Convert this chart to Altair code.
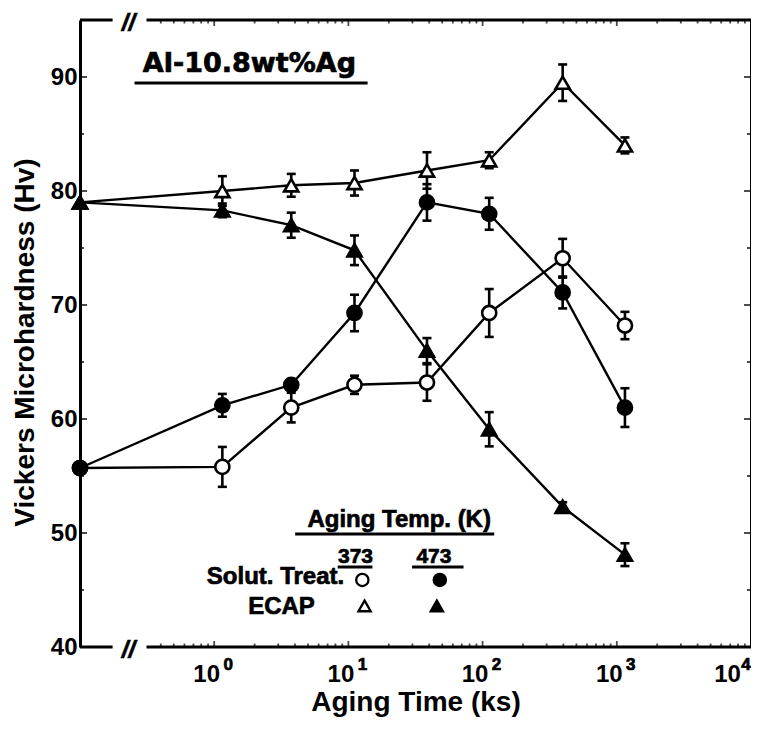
import altair as alt
import pandas as pd

FONT = "Liberation Sans"

# ---------------- data ----------------
time_ks = [0, 1.15, 3.75, 11.1, 38.5, 112, 395, 1150]   # aging time, ks (0 = as-treated)
T0_POS = 0.1                                            # where t = 0 is drawn (left of axis break)

series_names = ["Solut. Treat. 373 K", "Solut. Treat. 473 K", "ECAP 373 K", "ECAP 473 K"]
hv_st373 = [55.7, 55.8, 61.0, 63.0, 63.2, 69.3, 74.1, 68.2]
err_st373 = [0.3, 1.75, 1.3, 0.8, 1.6, 2.1, 1.7, 1.2]
hv_st473 = [55.7, 61.2, 63.0, 69.3, 79.0, 78.0, 71.1, 61.0]
err_st473 = [0.3, 1.0, 0.5, 1.6, 1.6, 1.4, 1.4, 1.7]
hv_ec373 = [79.0, 80.0, 80.5, 80.7, 81.8, 82.7, 89.5, 84.0]
err_ec373 = [0.3, 1.3, 1.0, 1.1, 1.6, 0.7, 1.6, 0.7]
hv_ec473 = [79.0, 78.3, 77.0, 74.8, 66.0, 59.1, 52.3, 48.1]
err_ec473 = [0.3, 0.6, 1.1, 1.3, 1.1, 1.5, 0.4, 1.0]

x_major = [1, 10, 100, 1000, 10000]
x_exponents = ["0", "1", "2", "3", "4"]
x_minor_mults = [2, 3, 4, 5, 6, 7, 8, 9]
x_minor_decades = [0.1, 1, 10, 100, 1000]
y_labels = [40, 50, 60, 70, 80, 90]
y_major_ticks = [50, 60, 70, 80, 90]
y_minor_ticks = [45, 55, 65, 75, 85]

# axis break position and the two pieces of the broken horizontal axes
break_x = [0.23]
axis_seg_start = [0.1, 0.313]
axis_seg_end = [0.175, 10000]

# ---------------- tables ----------------
rows = []
for name, hv, er in zip(series_names, [hv_st373, hv_st473, hv_ec373, hv_ec473],
                        [err_st373, err_st473, err_ec373, err_ec473]):
    for t, v, e in zip(time_ks, hv, er):
        rows.append(dict(series=name, t=(t if t > 0 else T0_POS), raw_t=t,
                         hv=v, lo=v - e, hi=v + e))
df = pd.DataFrame(rows)
df_err = df[df.raw_t > 0]

minor_x = [m * d for d in x_minor_decades for m in x_minor_mults if m * d >= 0.4]
df_xmaj = pd.DataFrame({"x": x_major})
df_xmin = pd.DataFrame({"x": minor_x})
df_ymaj = pd.DataFrame({"y": y_major_ticks})
df_ymin = pd.DataFrame({"y": y_minor_ticks})
df_exp = pd.DataFrame({"x": x_major[:-1], "e": x_exponents[:-1]})
df_exp_last = pd.DataFrame({"x": x_major[-1:], "e": x_exponents[-1:]})
df_seg = pd.DataFrame({"x": axis_seg_start, "x2": axis_seg_end})
df_brk = pd.DataFrame({"x": break_x * 2, "y": [40, 95], "s": ["//", "//"]})

# annotation: sample title and hand-drawn legend
df_title = pd.DataFrame({"x": [1.83], "y": [90.44], "s": ["Al-10.8wt%Ag"]})
df_head = pd.DataFrame({"x": [23.9], "y": [50.53], "s": ["Aging Temp. (K)"]})
df_temps = pd.DataFrame({"x": [11.3, 43.4], "y": [47.37, 47.37], "s": ["373", "473"]})
df_rowlab = pd.DataFrame({"x": [9.3, 5.62], "y": [45.53, 42.89], "s": ["Solut. Treat.", "ECAP"]})
df_uline = pd.DataFrame({"x": [0.255, 4.01, 8.32, 29.8],
                         "x2": [13.9, 122, 15.1, 72.1],
                         "y": [89.47, 49.91, 47.02, 47.02]})
df_legpts = pd.DataFrame({"x": [12.7, 48.0, 13.2, 45.6],
                          "hv": [45.88, 45.88, 43.6, 43.6],
                          "series": series_names})

# ---------------- scales / axes ----------------
xs = alt.Scale(type="log", domain=[0.1, 10000], nice=False)
ys = alt.Scale(domain=[40, 95], nice=False, zero=False)
xaxis = alt.Axis(values=x_major, labelExpr="'10'", title="Aging Time (ks)",
                 tickSize=0, domain=False, grid=False, labelFont=FONT, labelFontSize=24,
                 labelFontWeight="bold", labelColor="black", labelPadding=15,
                 labelOffset={"condition": {"test": "datum.value >= 10000", "value": -24},
                              "value": -8},
                 labelFlush=False, labelOverlap=False, titleFont=FONT, titleFontSize=28,
                 titleFontWeight="bold", titleColor="black", titleY=63,
                 titleBaseline="alphabetic")
yaxis = alt.Axis(values=y_labels, title="Vickers Microhardness (Hv)", tickSize=0,
                 domainWidth=3, domainColor="black", grid=False, labelFont=FONT,
                 labelFontSize=24, labelFontWeight="bold", labelColor="black",
                 labelPadding=3, titleFont=FONT, titleFontSize=28, titleFontWeight="bold",
                 titleColor="black", titleX=-47, titleY=322, titleAngle=270,
                 titleBaseline="alphabetic")


def X(f):
    return alt.X(f, type="quantitative", scale=xs, axis=xaxis)


def Y(f):
    return alt.Y(f, type="quantitative", scale=ys, axis=yaxis)


def XD(v):
    return alt.XDatum(v, type="quantitative", scale=xs, axis=xaxis)


def YD(v):
    return alt.YDatum(v, type="quantitative", scale=ys, axis=yaxis)


shape_sc = alt.Scale(domain=series_names, range=["circle", "circle", "triangle-up", "triangle-up"])
fill_sc = alt.Scale(domain=series_names, range=["white", "black", "white", "black"])
size_sc = alt.Scale(domain=series_names, range=[200, 200, 260, 260])

TXT = dict(fontWeight="bold", stroke="black", strokeWidth=0.7, color="black")

layers = []
# broken top / bottom axis lines
for yv in (40, 95):
    layers.append(alt.Chart(df_seg).mark_rule(color="black", strokeWidth=3).encode(
        x=X("x"), x2="x2:Q", y=YD(yv)))
# right border
layers.append(alt.Chart(df_xmaj.head(1)).mark_rule(color="black", strokeWidth=2).encode(
    x=XD(10000), y=YD(40), y2=alt.Y2Datum(95)))
# break symbols
layers.append(alt.Chart(df_brk).mark_text(font=FONT, fontSize=24, fontStyle="italic",
                                          baseline="middle", align="center", dy=4,
                                          **TXT).encode(
    x=X("x"), y=Y("y"), text="s:N"))
# inward ticks on bottom and top
for d, L in ((df_xmaj, 6), (df_xmin, 3.5)):
    layers.append(alt.Chart(d).mark_tick(orient="vertical", size=L, thickness=1.8,
                                         color="black", yOffset=-L / 2).encode(
        x=X("x"), y=YD(40)))
    layers.append(alt.Chart(d).mark_tick(orient="vertical", size=L, thickness=1.8,
                                         color="black", yOffset=L / 2).encode(
        x=X("x"), y=YD(95)))
# inward ticks on left and right
for d, L in ((df_ymaj, 7), (df_ymin, 4)):
    layers.append(alt.Chart(d).mark_tick(orient="horizontal", size=L, thickness=2,
                                         color="black", xOffset=L / 2).encode(
        y=Y("y"), x=XD(0.1)))
    layers.append(alt.Chart(d).mark_tick(orient="horizontal", size=L, thickness=2,
                                         color="black", xOffset=-L / 2).encode(
        y=Y("y"), x=XD(10000)))
# exponents of the x tick labels
layers.append(alt.Chart(df_exp).mark_text(font=FONT, fontSize=17, baseline="top",
                                          align="center", dx=14, dy=10, **TXT).encode(
    x=X("x"), y=YD(40), text="e:N"))
layers.append(alt.Chart(df_exp_last).mark_text(font=FONT, fontSize=17, baseline="top",
                                               align="center", dx=-5, dy=10, **TXT).encode(
    x=X("x"), y=YD(40), text="e:N"))

# data lines
layers.append(alt.Chart(df).mark_line(color="black", strokeWidth=2.4).encode(
    x=X("t"), y=Y("hv"), detail="series:N", order="t:Q"))
# error bars
layers.append(alt.Chart(df_err).mark_rule(color="black", strokeWidth=2.6).encode(
    x=X("t"), y=Y("lo"), y2="hi:Q"))
layers.append(alt.Chart(df_err).transform_fold(["lo", "hi"], as_=["k", "v"]).mark_tick(
    orient="horizontal", size=9, thickness=2.6, color="black", opacity=1).encode(
    x=X("t"), y=Y("v")))
# markers
pt_enc = dict(
    shape=alt.Shape("series:N", scale=shape_sc, legend=None),
    fill=alt.Fill("series:N", scale=fill_sc, legend=None),
)
layers.append(alt.Chart(df).mark_point(filled=True, stroke="black", strokeWidth=2.6,
                                       opacity=1).encode(
    x=X("t"), y=Y("hv"), size=alt.Size("series:N", scale=size_sc, legend=None), **pt_enc))

# annotations
layers.append(alt.Chart(df_title).mark_text(font="DejaVu Sans", fontSize=27, align="center",
                                            baseline="alphabetic", **TXT).encode(
    x=X("x"), y=Y("y"), text="s:N"))
layers.append(alt.Chart(df_uline).mark_rule(color="black", strokeWidth=3).encode(
    x=X("x"), x2="x2:Q", y=Y("y")))
layers.append(alt.Chart(df_head).mark_text(font=FONT, fontSize=24, align="center",
                                           baseline="alphabetic", **TXT).encode(
    x=X("x"), y=Y("y"), text="s:N"))
layers.append(alt.Chart(df_temps).mark_text(font=FONT, fontSize=21, align="center",
                                            baseline="alphabetic", **TXT).encode(
    x=X("x"), y=Y("y"), text="s:N"))
layers.append(alt.Chart(df_rowlab).mark_text(font=FONT, fontSize=24, align="right",
                                             baseline="alphabetic", **TXT).encode(
    x=X("x"), y=Y("y"), text="s:N"))
layers.append(alt.Chart(df_legpts).mark_point(filled=True, stroke="black", strokeWidth=2.3,
                                              size=150, opacity=1).encode(
    x=X("x"), y=Y("hv"), **pt_enc))

chart = alt.layer(*layers).properties(
    width=671, height=627,
    padding={"left": 72, "top": 12, "right": 0, "bottom": 76},
    autosize="none",
    background="white",
).configure_view(stroke=None)

chart.save("out.html", embed_options={"renderer": "svg", "actions": False})
